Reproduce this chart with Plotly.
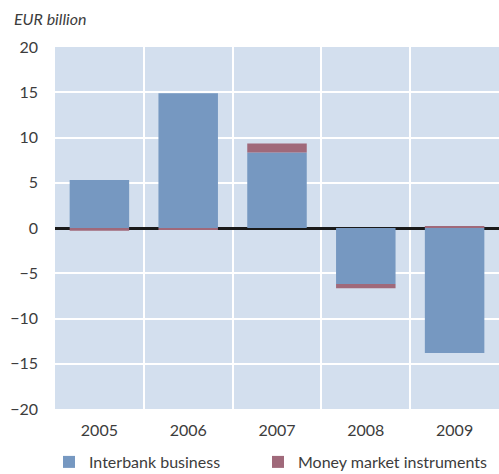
import plotly.graph_objects as go

years = ["2005", "2006", "2007", "2008", "2009"]
interbank = [5.3, 14.9, 8.35, -6.2, -13.8]
money_market = [-0.3, -0.2, 1.0, -0.45, 0.2]
y_ticks = [-20, -15, -10, -5, 0, 5, 10, 15, 20]

BLUE = "#7698c1"
RED = "#a0697a"
BG = "#d3dfee"
TXT = "#3c3c3c"
FONT = "Lato"

fig = go.Figure()
fig.add_trace(go.Bar(x=years, y=interbank, name="Interbank business",
                     marker=dict(color=BLUE, line=dict(width=0)), legend="legend"))
fig.add_trace(go.Bar(x=years, y=money_market, name="Money market instruments",
                     marker=dict(color=RED, line=dict(width=0)), legend="legend2"))

leg = dict(orientation="h", xanchor="left", yanchor="middle",
           yref="container", y=(474 - 462) / 474,
           font=dict(family=FONT, size=16, color=TXT), bgcolor="rgba(0,0,0,0)")

fig.update_layout(
    width=499, height=474,
    barmode="relative", bargap=0.33,
    plot_bgcolor=BG, paper_bgcolor="white",
    margin=dict(l=55, r=0, t=47, b=65, autoexpand=False),
    font=dict(family=FONT, size=16, color=TXT),
    showlegend=True,
    legend=dict(leg, xref="container", x=49 / 499),
    legend2=dict(leg, xref="container", x=258 / 499),
    annotations=[dict(text="<i>EUR billion</i>", xref="paper", yref="paper",
                      x=-0.097, y=1.08, xanchor="left", yanchor="middle",
                      showarrow=False, font=dict(family=FONT, size=16, color=TXT))],
)
fig.update_xaxes(type="category", tickson="boundaries", showgrid=True,
                 gridcolor="white", gridwidth=2, ticks="", showline=False,
                 tickfont=dict(size=16, color=TXT), ticklabelstandoff=10)
fig.update_yaxes(range=[-20, 20], tickvals=y_ticks, showgrid=True,
                 gridcolor="white", gridwidth=2, zeroline=True,
                 zerolinecolor="#1a1a1a", zerolinewidth=2.5, ticks="",
                 tickfont=dict(size=16, color=TXT), ticklabelstandoff=16)

fig.write_html("out.html", config={"displayModeBar": False},
               post_script="document.body.style.margin='0';document.body.style.overflow='hidden';")
